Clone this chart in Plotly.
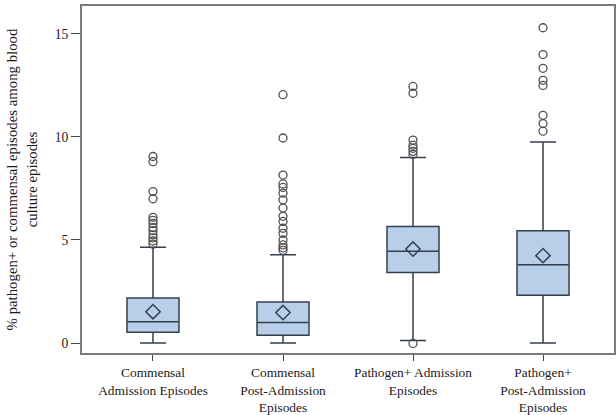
import plotly.graph_objects as go

# Episode groups
categories = [
    "Commensal<br>Admission Episodes",
    "Commensal<br>Post-Admission<br>Episodes",
    "Pathogen+ Admission<br>Episodes",
    "Pathogen+<br>Post-Admission<br>Episodes",
]

# Summary statistics (%)
q1 = [0.52, 0.38, 3.42, 2.32]
median = [1.03, 0.99, 4.45, 3.80]
q3 = [2.18, 1.99, 5.66, 5.45]
lower_fence = [0.0, 0.0, 0.12, 0.0]
upper_fence = [4.65, 4.28, 9.0, 9.75]
mean = [1.52, 1.48, 4.56, 4.24]

# Outlying observations per group (%)
outliers_commensal_adm = [9.05, 8.8, 7.35, 7.0, 6.1, 5.95, 5.8, 5.6, 5.45, 5.25, 5.1, 4.95, 4.8]
outliers_commensal_post = [12.05, 9.95, 8.15, 7.72, 7.55, 7.27, 6.95, 6.55, 6.15, 5.9, 5.57,
                           5.32, 5.0, 4.76, 4.62, 4.5]
outliers_pathogen_adm = [12.45, 12.12, 9.85, 9.6, 9.45, 9.3, 9.15, -0.02]
outliers_pathogen_post = [15.3, 14.0, 13.33, 12.75, 12.5, 11.05, 10.65, 10.28]

outliers = [outliers_commensal_adm, outliers_commensal_post,
            outliers_pathogen_adm, outliers_pathogen_post]

FILL = "#b9cfe9"
EDGE = "#34404d"
FONT = "'Liberation Serif', 'Times New Roman', Times, serif"
TEXT = "#1a1a1a"

fig = go.Figure()

fig.add_trace(go.Box(
    x=categories,
    q1=q1, median=median, q3=q3,
    lowerfence=lower_fence, upperfence=upper_fence,
    fillcolor=FILL,
    line=dict(color=EDGE, width=1.5),
    width=0.4,
    whiskerwidth=0.5,
    boxpoints=False,
    showlegend=False,
))

out_x, out_y = [], []
for cat, vals in zip(categories, outliers):
    out_x += [cat] * len(vals)
    out_y += vals

fig.add_trace(go.Scatter(
    x=out_x, y=out_y, mode="markers",
    marker=dict(symbol="circle-open", size=8, color="#505050", line=dict(width=1.3)),
    showlegend=False,
))

fig.add_trace(go.Scatter(
    x=categories, y=mean, mode="markers",
    marker=dict(symbol="diamond-open", size=11, color=EDGE, line=dict(width=1.5)),
    showlegend=False,
))

fig.update_layout(
    width=616, height=415,
    margin=dict(l=82, r=2, t=6, b=62),
    plot_bgcolor="white", paper_bgcolor="white",
    font=dict(family=FONT, size=14, color=TEXT),
)

fig.update_xaxes(
    type="category",
    categoryorder="array", categoryarray=categories,
    range=[-0.546, 3.546],
    automargin=False,
    showline=True, mirror=True, linecolor="#7a7a7a", linewidth=2,
    ticks="outside", ticklen=6, tickcolor="#444444",
    ticklabelstandoff=0,
    showgrid=False, zeroline=False,
    tickfont=dict(family=FONT, size=13.4, color=TEXT),
)

fig.update_yaxes(
    range=[-0.485, 16.355],
    tickvals=[0, 5, 10, 15],
    automargin=False,
    showline=True, mirror=True, linecolor="#7a7a7a", linewidth=2,
    ticks="outside", ticklen=9, tickcolor="#444444",
    showgrid=False, zeroline=False,
    tickfont=dict(family=FONT, size=13.6, color=TEXT),
    title=dict(
        text="% pathogen+ or commensal episodes among blood<br>culture episodes",
        font=dict(family=FONT, size=14.8, color=TEXT),
        standoff=14,
    ),
)

fig.write_html("out.html")
